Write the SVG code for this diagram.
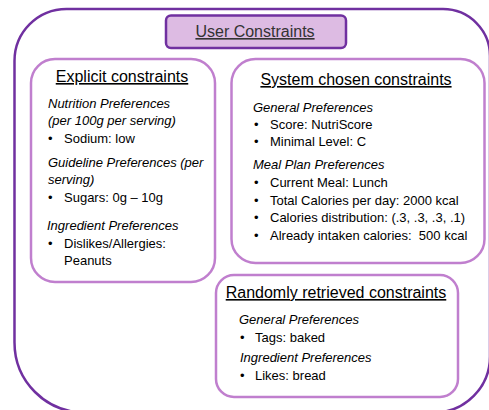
<svg xmlns="http://www.w3.org/2000/svg" width="489" height="410" viewBox="0 0 489 410">
<style>
text{font-family:"Liberation Sans",Arial,sans-serif;fill:#000;}
.h{font-size:16px;text-decoration:underline;text-anchor:middle;}
.t{font-size:13px;}
.i{font-size:13px;font-style:italic;}
.box{fill:#fff;stroke:#C07FCE;stroke-width:2.5;}
</style>
<path d="M14.5 61 A52 52 0 0 1 66.5 9 H443 A47 47 0 0 1 490 56 V356 A56 56 0 0 1 434 412.5 H84.5 A70 70 0 0 1 14.5 342.5 Z" fill="#fff" stroke="#7030A0" stroke-width="2.5"/>
<g id="title">
<rect x="166" y="15.5" width="180" height="32.5" rx="5" fill="#DDBBE3" stroke="#7030A0" stroke-width="2.5"/>
<text class="h" x="255" y="37" style="fill:#333">User Constraints</text>
</g>
<g id="explicit">
<rect class="box" x="31" y="59" width="184" height="223" rx="24"/>
<text class="h" x="122" y="82">Explicit constraints</text>
<text class="i" x="48" y="108">Nutrition Preferences</text>
<text class="i" x="48" y="125">(per 100g per serving)</text>
<text class="t" x="48" y="143">•</text><text class="t" x="64" y="143">Sodium: low</text>
<text class="i" x="48" y="167">Guideline Preferences (per</text>
<text class="i" x="48" y="184">serving)</text>
<text class="t" x="48" y="202">•</text><text class="t" x="64" y="202">Sugars: 0g – 10g</text>
<text class="i" x="47" y="230">Ingredient Preferences</text>
<text class="t" x="48" y="248">•</text><text class="t" x="64" y="248">Dislikes/Allergies:</text>
<text class="t" x="64" y="265">Peanuts</text>
</g>
<g id="system">
<rect class="box" x="231.5" y="59" width="253" height="204" rx="24"/>
<text class="h" x="356" y="85">System chosen constraints</text>
<text class="i" x="253" y="112">General Preferences</text>
<text class="t" x="254" y="129">•</text><text class="t" x="270" y="129">Score: NutriScore</text>
<text class="t" x="254" y="146">•</text><text class="t" x="270" y="146">Minimal Level: C</text>
<text class="i" x="253" y="169">Meal Plan Preferences</text>
<text class="t" x="254" y="187">•</text><text class="t" x="270" y="187">Current Meal: Lunch</text>
<text class="t" x="254" y="205">•</text><text class="t" x="270" y="205">Total Calories per day: 2000 kcal</text>
<text class="t" x="254" y="222">•</text><text class="t" x="270" y="222">Calories distribution: (.3, .3, .3, .1)</text>
<text class="t" x="254" y="240">•</text><text class="t" x="270" y="240" xml:space="preserve">Already intaken calories:  500 kcal</text>
</g>
<g id="random">
<rect class="box" x="216" y="275" width="242" height="122" rx="18"/>
<text class="h" x="336" y="298">Randomly retrieved constraints</text>
<text class="i" x="239" y="324">General Preferences</text>
<text class="t" x="240" y="342">•</text><text class="t" x="255" y="342">Tags: baked</text>
<text class="i" x="240" y="362">Ingredient Preferences</text>
<text class="t" x="240" y="380">•</text><text class="t" x="255" y="380">Likes: bread</text>
</g>
<g id="connectors"/>
</svg>
